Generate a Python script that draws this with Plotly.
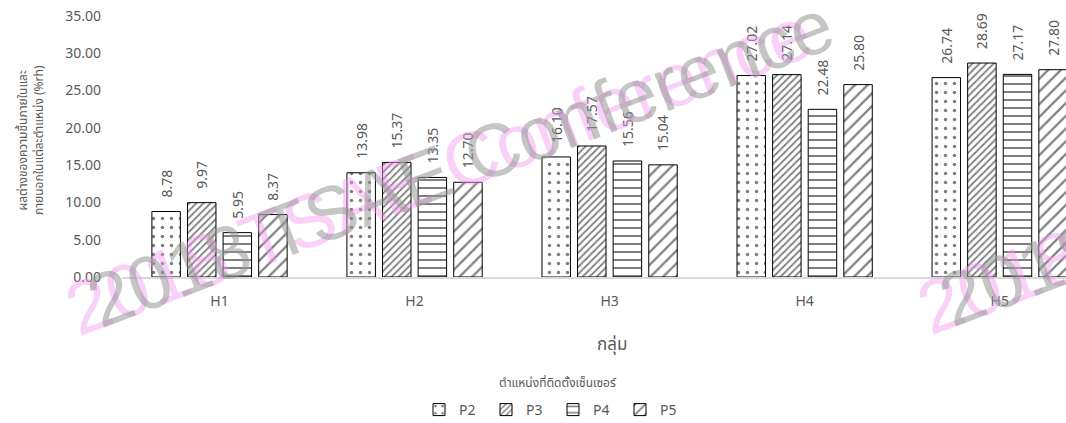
import plotly.graph_objects as go

groups = ["H1", "H2", "H3", "H4", "H5"]
series_names = ["P2", "P3", "P4", "P5"]
p2 = [8.78, 13.98, 16.10, 27.02, 26.74]
p3 = [9.97, 15.37, 17.57, 27.14, 28.69]
p4 = [5.95, 13.35, 15.56, 22.48, 27.17]
p5 = [8.37, 12.70, 15.04, 25.80, 27.80]
series_values = [p2, p3, p4, p5]

y_title = "ผลต่างของความชื้นภายในและ<br>ภายนอกในแต่ละตำแหน่ง (%rh)"
x_title = "กลุ่ม"
legend_title = "ตำแหน่งที่ติดตั้งเซ็นเซอร์"
watermark = "2018 TSAE Conference"

patterns = [
    dict(shape=".", size=9, solidity=0.12),
    dict(shape="/", size=5, solidity=0.35),
    dict(shape="-", size=8, solidity=0.25),
    dict(shape="/", size=9, solidity=0.25),
]

FONT = "Segoe UI, Noto Sans, Noto Sans Thai, sans-serif"
GRAY = "#595959"

W, H = 1066, 423
L, T, B = 122, 16, 146
plot_h = H - T - B
plot_w = W - L


def px(xp):
    return (xp - L) / plot_w


def py(yp):
    return (H - B - yp) / plot_h


fig = go.Figure()
for name, vals, pat in zip(series_names, series_values, patterns):
    fig.add_trace(go.Bar(
        name=name, x=groups, y=vals,
        marker=dict(color="white", line=dict(color="black", width=1),
                    pattern=dict(fgcolor="black", bgcolor="white", **pat)),
        texttemplate="\u00a0\u00a0\u00a0%{y:.2f}",
        textposition="outside", textangle=-90, constraintext="none",
        textfont=dict(family=FONT, size=14, color=GRAY),
        cliponaxis=False,
    ))

annotations = [
    dict(text=y_title, x=px(30), y=py(140), xref="paper", yref="paper",
         textangle=-90, showarrow=False, font=dict(family=FONT, size=12, color=GRAY),
         xanchor="center", yanchor="middle"),
    dict(text=x_title, x=px(612), y=py(343), xref="paper", yref="paper",
         showarrow=False, font=dict(family=FONT, size=17, color=GRAY),
         xanchor="center", yanchor="middle"),
    dict(text=legend_title, x=px(557), y=py(382), xref="paper", yref="paper",
         showarrow=False, font=dict(family=FONT, size=12, color=GRAY),
         xanchor="center", yanchor="middle"),
]
# watermark (pink + gray, offset)
for col, dx, dy in [("rgba(240,150,240,0.45)", -22, 8), ("rgba(150,150,150,0.55)", 0, 0)]:
    annotations.append(dict(text=watermark, x=px(460 + dx), y=py(163 + dy), xref="paper", yref="paper",
                            textangle=-21, showarrow=False,
                            font=dict(family="Liberation Sans, Arial", size=75, color=col),
                            xanchor="center", yanchor="middle"))
    annotations.append(dict(text=watermark, x=px(1312 + dx), y=py(162 + dy), xref="paper", yref="paper",
                            textangle=-21, showarrow=False,
                            font=dict(family="Liberation Sans, Arial", size=75, color=col),
                            xanchor="center", yanchor="middle"))

fig.update_layout(
    width=W, height=H,
    margin=dict(l=L, r=0, t=T, b=B, autoexpand=False),
    paper_bgcolor="white", plot_bgcolor="white",
    barmode="group", bargap=0.27, bargroupgap=0.2,
    font=dict(family=FONT, color=GRAY),
    showlegend=True,
    legend=dict(orientation="h", x=px(553), y=py(410), xanchor="center", yanchor="middle",
                font=dict(family=FONT, size=14, color=GRAY), itemwidth=30,
                entrywidth=22, traceorder="normal"),
    annotations=annotations,
)
fig.update_yaxes(range=[0, 35], dtick=5, tickformat=".2f", showgrid=False, zeroline=False,
                 showline=False, tickfont=dict(family=FONT, size=14, color=GRAY),
                 ticklabelstandoff=20, automargin=False)
fig.update_xaxes(range=[-0.5, 4.34], showline=True, linecolor="#d9d9d9", linewidth=1.5,
                 tickfont=dict(family=FONT, size=14, color=GRAY), ticklabelstandoff=10,
                 automargin=False)

fig.write_html("out.html", config={"displayModeBar": False},
               post_script="document.body.style.margin='0';document.body.style.overflow='hidden';")
